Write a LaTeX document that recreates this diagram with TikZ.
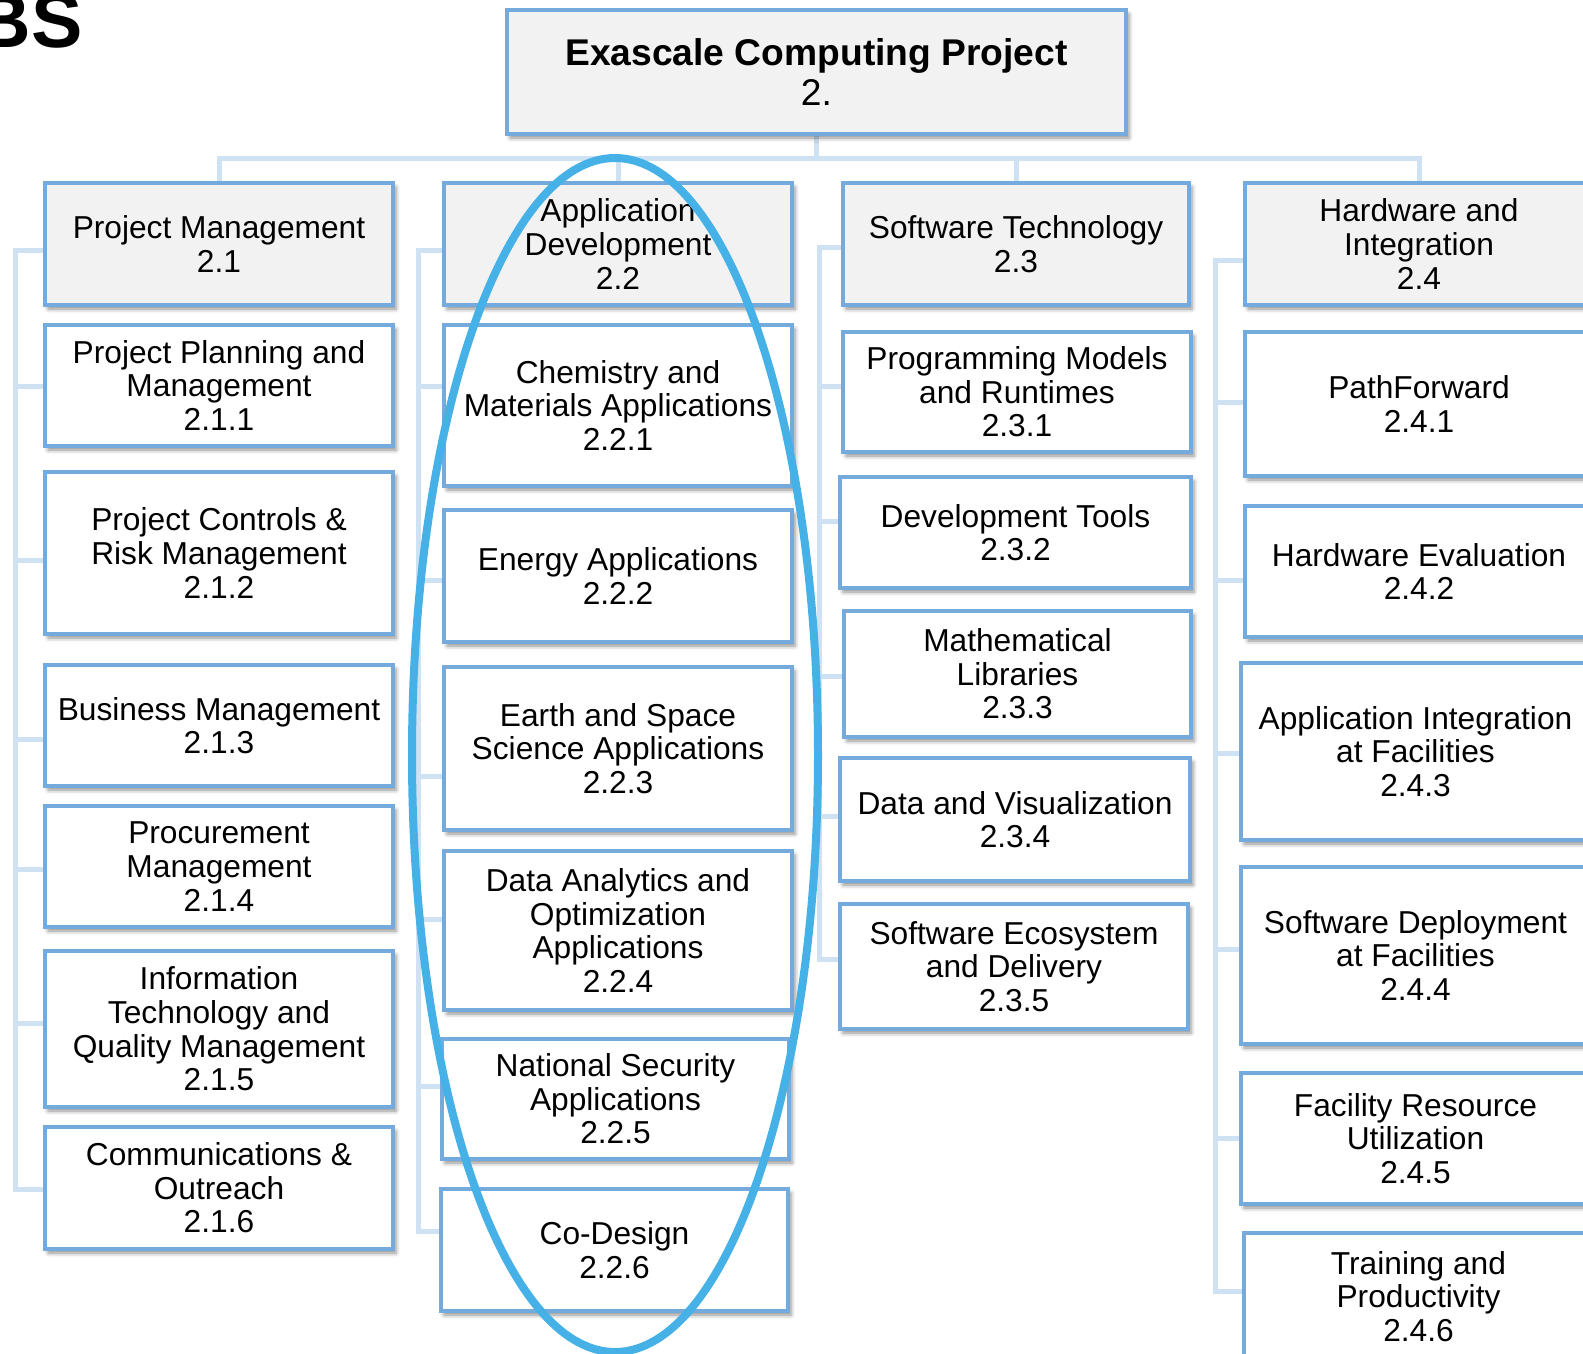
\documentclass[tikz,border=0pt]{standalone}
\usepackage{fontspec}
\setmainfont{Liberation Sans}
\usetikzlibrary{shadows.blur}
\definecolor{bord}{HTML}{74AADC}
\definecolor{hfill}{HTML}{F2F2F2}
\definecolor{conncol}{HTML}{CFE2F3}
\definecolor{ellcol}{HTML}{45B1E6}
\pgfdeclarelayer{bg}
\pgfsetlayers{bg,main}
\newcommand{\mkbox}[7]{\node[#6, minimum width={(#4-#2)*1pt}, minimum height={(#5-#3)*1pt}] (#1) at ({(#2+#4)/2},{(#3+#5)/2}) {#7};}
\newcommand{\lnk}[5]{\draw[conn] (#1.west |- 0,#3) -| (#4,#5) -- (#2.west |- 0,#5);}
\begin{document}
\begin{tikzpicture}[x=1pt,y=-1pt,
 boxbase/.style={draw=bord, line width=4.5pt, inner sep=0pt, align=center,
   font=\fontsize{31.7}{33.6}\selectfont,
   blur shadow={shadow xshift=3pt, shadow yshift=-4pt, shadow blur radius=4pt, shadow opacity=45}},
 headbox/.style={boxbase, fill=hfill},
 childbox/.style={boxbase, fill=white},
 titlebox/.style={headbox, font=\fontsize{37.2}{40.4}\selectfont},
 conn/.style={draw=conncol, line width=5pt},
 ringline/.style={draw=ellcol, line width=8pt}]
\useasboundingbox (0,0) rectangle (1583,1354);
\clip (0,0) rectangle (1583,1354);

\node[anchor=base east, inner sep=0pt, font=\fontsize{77}{80}\selectfont\bfseries] (wbs) at (83,48) {BS};

\mkbox{top}{507}{10}{1126}{134}{titlebox}{\textbf{Exascale Computing Project}\\2.}

% column 1
\mkbox{h21}{45}{183}{393}{305}{headbox}{Project Management\\2.1}
\mkbox{c211}{45}{325}{393}{446}{childbox}{Project Planning and\\Management\\2.1.1}
\mkbox{c212}{45}{472}{393}{634}{childbox}{Project Controls \&\\Risk Management\\2.1.2}
\mkbox{c213}{45}{665}{393}{786}{childbox}{Business Management\\2.1.3}
\mkbox{c214}{45}{806}{393}{927}{childbox}{Procurement\\Management\\2.1.4}
\mkbox{c215}{45}{951}{393}{1107}{childbox}{Information\\Technology and\\Quality Management\\2.1.5}
\mkbox{c216}{45}{1127}{393}{1249}{childbox}{Communications \&\\Outreach\\2.1.6}

% column 2
\mkbox{h22}{444}{183}{792}{305}{headbox}{Application\\Development\\2.2}
\mkbox{c221}{444}{325}{792}{486}{childbox}{Chemistry and\\Materials Applications\\2.2.1}
\mkbox{c222}{444}{510}{792}{642}{childbox}{Energy Applications\\2.2.2}
\mkbox{c223}{444}{667}{792}{830}{childbox}{Earth and Space\\Science Applications\\2.2.3}
\mkbox{c224}{444}{851}{792}{1010}{childbox}{Data Analytics and\\Optimization\\Applications\\2.2.4}
\mkbox{c225}{442}{1039}{789}{1159}{childbox}{National Security\\Applications\\2.2.5}
\mkbox{c226}{441}{1189}{788}{1311}{childbox}{Co-Design\\2.2.6}

% column 3
\mkbox{h23}{843}{183}{1189}{305}{headbox}{Software Technology\\2.3}
\mkbox{c231}{843}{332}{1191}{452}{childbox}{Programming Models\\and Runtimes\\2.3.1}
\mkbox{c232}{840}{477}{1191}{588}{childbox}{Development Tools\\2.3.2}
\mkbox{c233}{844}{611}{1191}{737}{childbox}{Mathematical\\Libraries\\2.3.3}
\mkbox{c234}{840}{758}{1190}{881}{childbox}{Data and Visualization\\2.3.4}
\mkbox{c235}{840}{904}{1188}{1029}{childbox}{Software Ecosystem\\and Delivery\\2.3.5}

% column 4
\mkbox{h24}{1245}{183}{1593}{305}{headbox}{Hardware and\\Integration\\2.4}
\mkbox{c241}{1245}{332}{1593}{476}{childbox}{PathForward\\2.4.1}
\mkbox{c242}{1245}{506}{1593}{637}{childbox}{Hardware Evaluation\\2.4.2}
\mkbox{c243}{1241}{663}{1590}{840}{childbox}{Application Integration\\at Facilities\\2.4.3}
\mkbox{c244}{1241}{867}{1590}{1044}{childbox}{Software Deployment\\at Facilities\\2.4.4}
\mkbox{c245}{1241}{1073}{1590}{1204}{childbox}{Facility Resource\\Utilization\\2.4.5}
\mkbox{c246}{1244}{1233}{1593}{1360}{childbox}{Training and\\Productivity\\2.4.6}

\begin{pgfonlayer}{bg}
\foreach \h in {h21,h22,h23,h24}
  \draw[conn] (top.south) -- (top.south |- 0,158) -| (\h.north);
\lnk{h21}{c211}{250}{15}{386}
\lnk{h21}{c212}{250}{15}{560}
\lnk{h21}{c213}{250}{15}{739}
\lnk{h21}{c214}{250}{15}{869}
\lnk{h21}{c215}{250}{15}{1023}
\lnk{h21}{c216}{250}{15}{1189}
\lnk{h22}{c221}{250}{418}{386}
\lnk{h22}{c222}{250}{418}{580}
\lnk{h22}{c223}{250}{418}{776}
\lnk{h22}{c224}{250}{418}{919}
\lnk{h22}{c225}{250}{418}{1086}
\lnk{h22}{c226}{250}{418}{1231}
\lnk{h23}{c231}{247}{819}{386}
\lnk{h23}{c232}{247}{819}{521}
\lnk{h23}{c233}{247}{819}{676}
\lnk{h23}{c234}{247}{819}{816}
\lnk{h23}{c235}{247}{819}{959}
\lnk{h24}{c241}{260}{1215}{402}
\lnk{h24}{c242}{260}{1215}{580}
\lnk{h24}{c243}{260}{1215}{753}
\lnk{h24}{c244}{260}{1215}{949}
\lnk{h24}{c245}{260}{1215}{1138}
\lnk{h24}{c246}{260}{1215}{1291}
\end{pgfonlayer}

\draw[ringline] (615,755) ellipse [x radius=203pt, y radius=597pt];
\end{tikzpicture}
\end{document}
